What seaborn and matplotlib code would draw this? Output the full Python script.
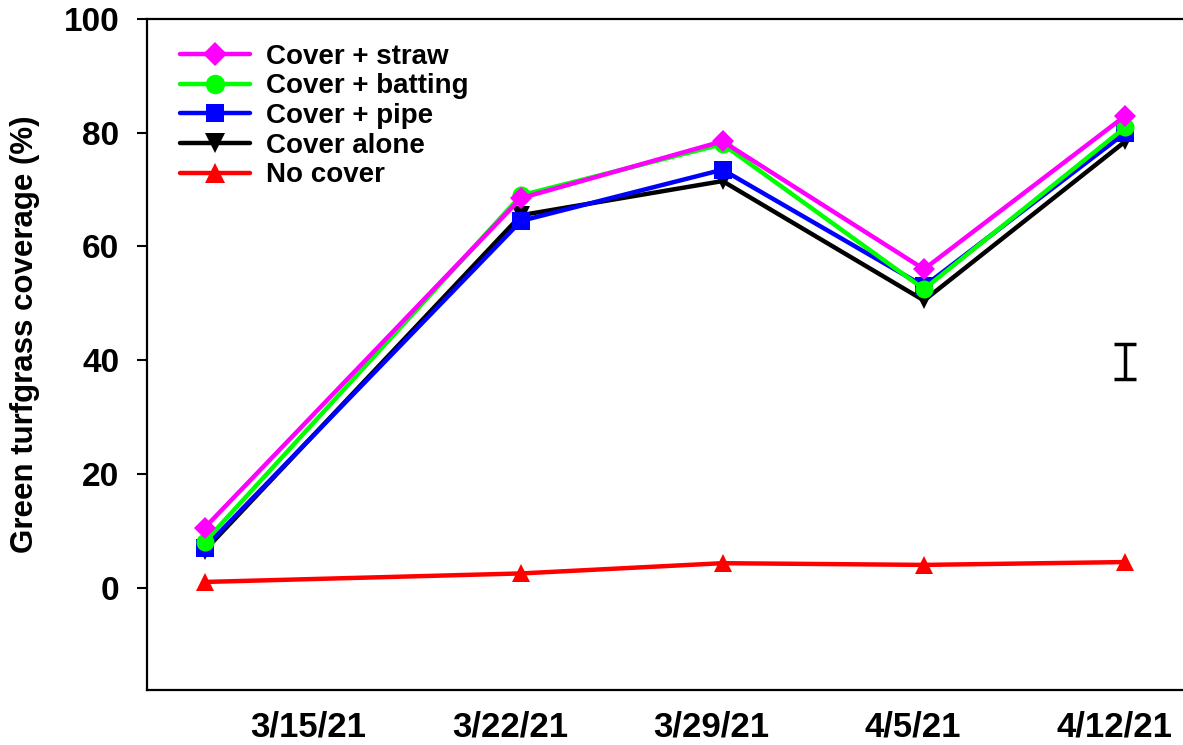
import pandas as pd
import seaborn as sns
import matplotlib.pyplot as plt
import matplotlib.transforms as mtrans

# data (sampling dates and % green cover)
dates = ['2021-03-11', '2021-03-22', '2021-03-29', '2021-04-05', '2021-04-12']
straw = [10.5, 68.5, 78.5, 56.0, 83.0]
batting = [8.0, 69.0, 78.0, 52.5, 81.0]
pipe = [7.0, 64.5, 73.5, 53.0, 80.0]
alone = [6.5, 65.5, 71.5, 50.5, 78.5]
no_cover = [1.0, 2.5, 4.3, 4.0, 4.5]

treatments = ['Cover + straw', 'Cover + batting', 'Cover + pipe', 'Cover alone', 'No cover']
tick_dates = ['2021-03-15', '2021-03-22', '2021-03-29', '2021-04-05', '2021-04-12']
tick_labels = ['3/15/21', '3/22/21', '3/29/21', '4/5/21', '4/12/21']

# LSD bar shown at the right
lsd_date = '2021-04-12'
lsd_center = 39.8
lsd_half = 3.1

rows = []
for name, vals in zip(treatments, [straw, batting, pipe, alone, no_cover]):
    for d, v in zip(dates, vals):
        rows.append({'Date': pd.Timestamp(d), 'Cover': v, 'Treatment': name})
df = pd.DataFrame(rows)

sns.set_style('white')
plt.rcParams['font.family'] = ['Liberation Sans', 'DejaVu Sans']
plt.rcParams['text.color'] = 'black'
plt.rcParams['xtick.color'] = 'black'
plt.rcParams['ytick.color'] = 'black'
plt.rcParams['axes.labelcolor'] = 'black'

warna = {'Cover + straw': '#ff00ff', 'Cover + batting': '#00ff00',
         'Cover + pipe': '#0000ff', 'Cover alone': '#000000', 'No cover': '#ff0000'}
penanda = {'Cover + straw': 'D', 'Cover + batting': 'o', 'Cover + pipe': 's',
           'Cover alone': 'v', 'No cover': '^'}
ukuran = {'D': 11, 'o': 13, 's': 12.5, 'v': 13.5, '^': 13.5}

fig = plt.figure(figsize=(11.83, 7.45), dpi=100)
ax = fig.add_axes([147 / 1183, 55 / 745, 1036 / 1183, 671 / 745])

# draw no cover first so straw ends up on top
urutan = treatments[::-1]
sns.lineplot(data=df, x='Date', y='Cover', hue='Treatment', style='Treatment',
             hue_order=urutan, style_order=urutan, palette=warna, markers=penanda,
             dashes=False, linewidth=3.2, markersize=12, markeredgewidth=0, ax=ax)

for line in ax.get_lines():
    m = line.get_marker()
    if m in ukuran:
        line.set_markersize(ukuran[m])

ax.errorbar(pd.Timestamp(lsd_date), lsd_center, yerr=lsd_half, color='black',
            elinewidth=2.5, capsize=8, capthick=2.5)

handles, labels = ax.get_legend_handles_labels()
pasangan = dict(zip(labels, handles))
leg = ax.legend([pasangan[t] for t in treatments], treatments, loc='upper left',
                bbox_to_anchor=(0.032, 0.963), frameon=False, borderaxespad=0, borderpad=0,
                handlelength=2.5, handletextpad=0.6, labelspacing=0.13,
                prop={'weight': 'bold', 'size': 20})
for h in leg.legend_handles:
    m = h.get_marker()
    if m in ukuran:
        h.set_markersize(ukuran[m] + 1)

ax.set_xlim(pd.Timestamp('2021-03-09'), pd.Timestamp('2021-04-14'))
ax.set_ylim(-18, 100)
ax.set_xticks([pd.Timestamp(t) for t in tick_dates])
ax.set_xticklabels(tick_labels, fontsize=25, fontweight='bold')
ax.set_yticks([0, 20, 40, 60, 80, 100])
ax.set_yticklabels(['0', '20', '40', '60', '80', '100'], fontsize=24, fontweight='bold')
ax.tick_params(axis='x', direction='in', length=7, width=1.5, pad=15)
ax.tick_params(axis='y', direction='out', length=7, width=1.5, pad=13, left=True)
ax.set_xlabel('')
ax.set_ylabel('Green turfgrass coverage (%)', fontsize=22.5, fontweight='bold')
ax.yaxis.set_label_coords(-0.103, 0.53)

# date labels sit a little left of their ticks in the original
geser = mtrans.ScaledTranslation(-0.11, 0, fig.dpi_scale_trans)
for lbl in ax.get_xticklabels():
    lbl.set_transform(lbl.get_transform() + geser)

for s in ['left', 'bottom', 'top']:
    ax.spines[s].set_linewidth(1.6)
    ax.spines[s].set_color('black')
ax.spines['right'].set_visible(False)

plt.savefig('out.png', dpi=100)
